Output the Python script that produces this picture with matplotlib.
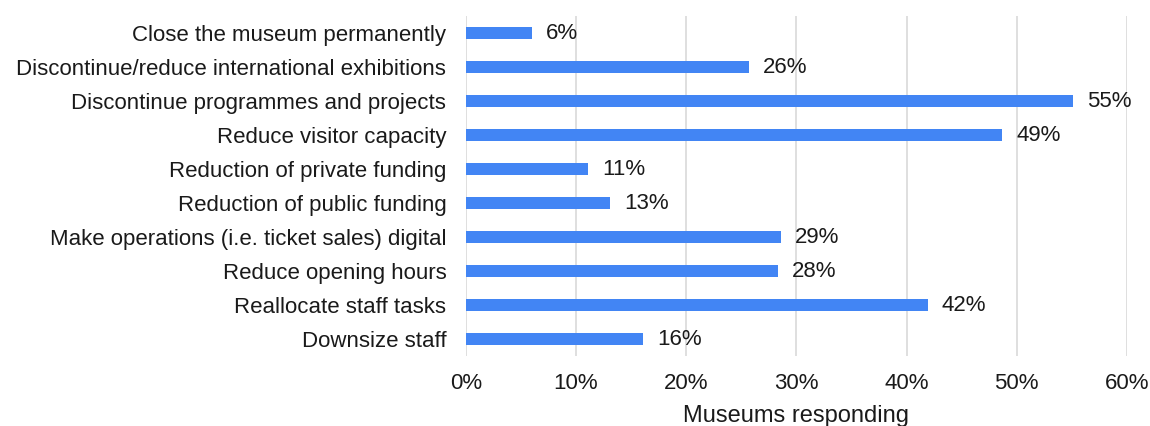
import matplotlib
matplotlib.use("Agg")
import matplotlib.pyplot as plt

categories = [
    "Close the museum permanently",
    "Discontinue/reduce international exhibitions",
    "Discontinue programmes and projects",
    "Reduce visitor capacity",
    "Reduction of private funding",
    "Reduction of public funding",
    "Make operations (i.e. ticket sales) digital",
    "Reduce opening hours",
    "Reallocate staff tasks",
    "Downsize staff",
]
values = [6.0, 25.7, 55.1, 48.7, 11.1, 13.1, 28.6, 28.3, 41.9, 16.1]
value_labels = ["6%", "26%", "55%", "49%", "11%", "13%", "29%", "28%", "42%", "16%"]
xticks = [0, 10, 20, 30, 40, 50, 60]
xtick_labels = ["0%", "10%", "20%", "30%", "40%", "50%", "60%"]

plt.rcParams['font.family'] = ['Liberation Sans', 'DejaVu Sans']
FS = 16
TC = "#1a1a1a"

fig = plt.figure(figsize=(11.5, 4.26), dpi=100)
ax = fig.add_axes([0.405, 0.164, 0.575, 0.798])

ypos = list(range(len(categories)))
bars = ax.barh(ypos, values, height=0.37, color="#4285F4", zorder=3)
for b, lab in zip(bars, value_labels):
    ax.text(b.get_width() + 1.25, b.get_y() + b.get_height() / 2, lab,
            va="center", ha="left", fontsize=FS, color=TC)

ax.set_yticks(ypos)
ax.set_yticklabels(categories, fontsize=FS, color=TC)
ax.set_ylim(len(categories) - 0.5, -0.5)
ax.set_xlim(0, 60)
ax.set_xticks(xticks)
ax.set_xticklabels(xtick_labels, fontsize=FS, color=TC)
ax.tick_params(axis='y', length=0, pad=14)
ax.tick_params(axis='x', length=0, pad=12)
ax.xaxis.grid(True, color="#d9d9d9", linewidth=1.2, zorder=0)
for s in ax.spines.values():
    s.set_visible(False)
ax.set_xlabel("Museums responding", fontsize=17, color=TC, labelpad=8)

fig.savefig("out.png", dpi=100)
